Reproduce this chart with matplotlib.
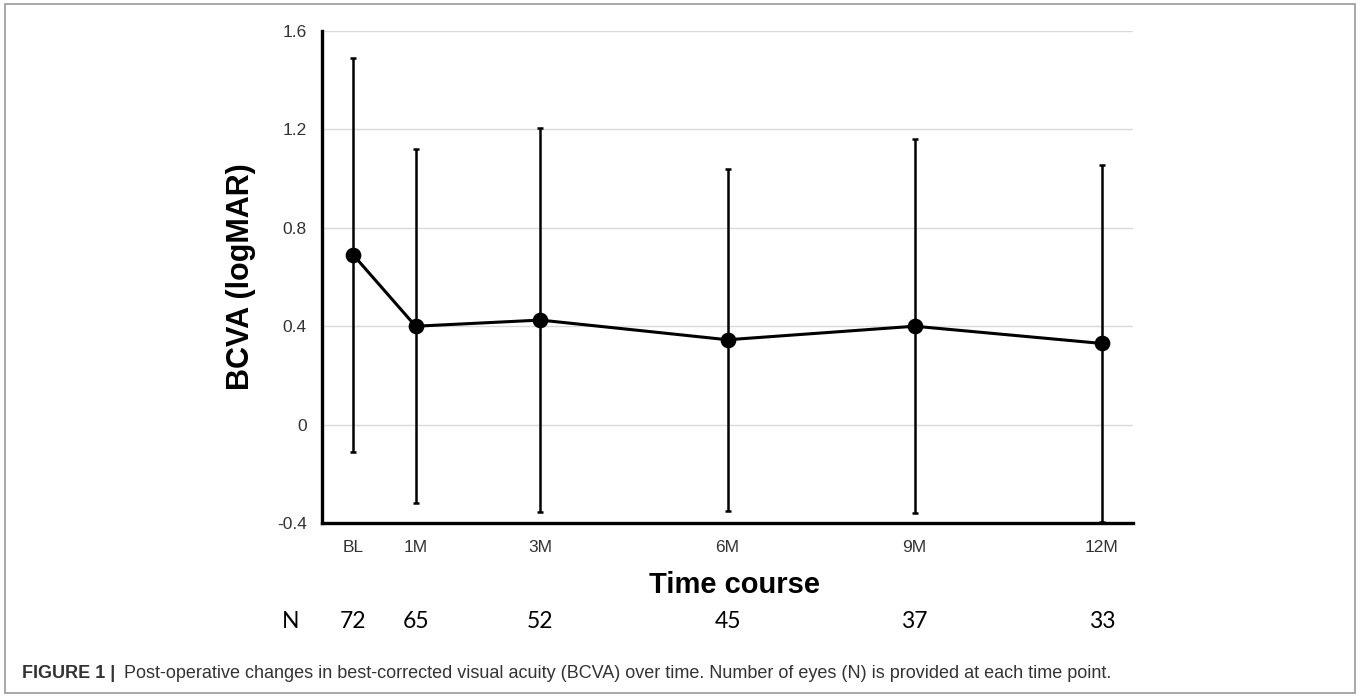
import matplotlib
matplotlib.use("Agg")
import matplotlib.pyplot as plt
from matplotlib.patches import Rectangle

# BCVA (logMAR) over time, mean +/- SD
months = [0, 1, 3, 6, 9, 12]
tick_labels = ["BL", "1M", "3M", "6M", "9M", "12M"]
bcva_mean = [0.69, 0.40, 0.425, 0.345, 0.40, 0.33]
bcva_sd = [0.80, 0.72, 0.78, 0.695, 0.76, 0.725]
n_eyes = [72, 65, 52, 45, 37, 33]

plt.rcParams["font.family"] = ["Liberation Sans", "DejaVu Sans"]

fig = plt.figure(figsize=(13.6, 6.97), dpi=100)
ax = fig.add_axes([0.2368, 0.2496, 0.5963, 0.7059])

ax.errorbar(months, bcva_mean, yerr=bcva_sd, fmt="none", ecolor="black",
            elinewidth=1.8, capsize=2.5, capthick=1.8, zorder=3)
ax.plot(months, bcva_mean, "-o", color="black", lw=2.2, ms=10.3, zorder=4)

ax.set_xlim(-0.5, 12.5)
ax.set_ylim(-0.4, 1.6)
ax.set_yticks([-0.4, 0, 0.4, 0.8, 1.2, 1.6])
ax.set_yticklabels(["-0.4", "0", "0.4", "0.8", "1.2", "1.6"])
ax.set_xticks(months)
ax.set_xticklabels(tick_labels)
ax.tick_params(axis="both", length=0, labelsize=12.5, colors="#333333")
ax.tick_params(axis="y", pad=11)
ax.tick_params(axis="x", pad=12)
ax.yaxis.grid(True, color="#d9d9d9", lw=1.0, zorder=0)
ax.set_axisbelow(True)
for s in ["top", "right"]:
    ax.spines[s].set_visible(False)
for s in ["left", "bottom"]:
    ax.spines[s].set_linewidth(2.4)
    ax.spines[s].set_color("black")

ax.set_ylabel("BCVA (logMAR)", fontsize=22, fontweight="bold", labelpad=15)
ax.set_xlabel("Time course", fontsize=21, fontweight="bold")
ax.xaxis.set_label_coords(0.509, -0.097)

# N row, under each time point
tr = ax.get_xaxis_transform()
ax.text(-1.0, -0.2, "N", transform=tr, fontsize=16.5, family=["Lato", "Liberation Sans"],
        ha="center", va="center", clip_on=False)
for m, n in zip(months, n_eyes):
    ax.text(m, -0.2, str(n), transform=tr, fontsize=16.5, family=["Lato", "Liberation Sans"],
            ha="center", va="center", clip_on=False)

# caption
fig.text(0.016, 0.033, "FIGURE 1 |", fontsize=13, fontweight="bold",
         color="#333333", va="center")
fig.text(0.0912, 0.033,
         "Post-operative changes in best-corrected visual acuity (BCVA) over time. "
         "Number of eyes (N) is provided at each time point.",
         fontsize=13, color="#333333", va="center")

fig.patches.append(Rectangle((0.004, 0.006), 0.992, 0.988, transform=fig.transFigure,
                             fill=False, edgecolor="#9a9a9a", lw=1.2))

fig.savefig("out.png", dpi=100)
